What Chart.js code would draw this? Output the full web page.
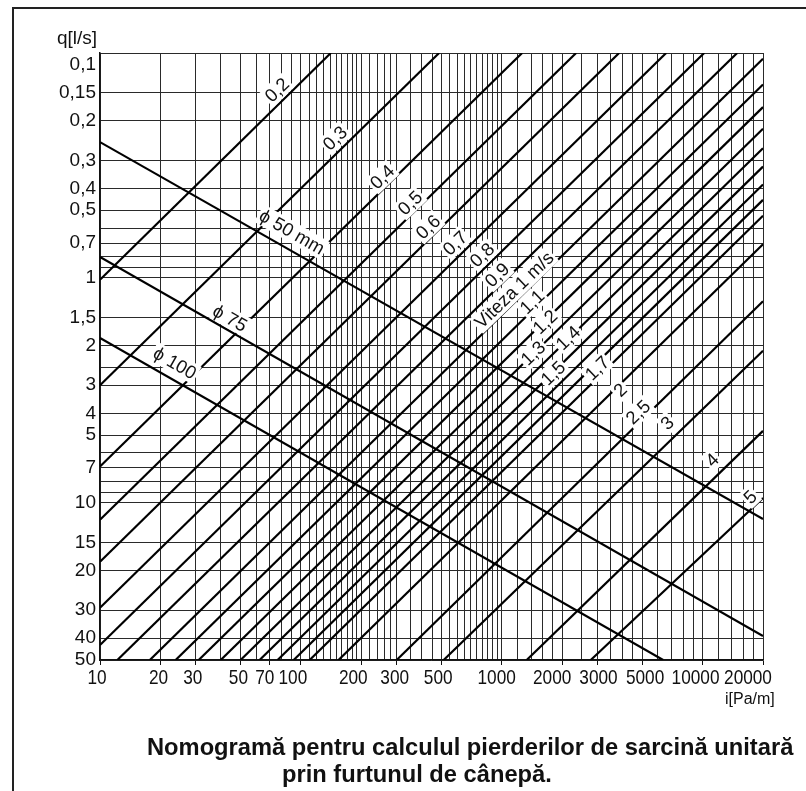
<!DOCTYPE html>
<html lang="ro">
<head>
<meta charset="utf-8">
<title>Nomogramă – furtun de cânepă</title>
<script src="https://cdn.jsdelivr.net/npm/chart.js@4.4.1/dist/chart.umd.min.js"></script>
<style>
  html, body { margin: 0; padding: 0; background: #fff; overflow: hidden; }
  #wrap { position: relative; width: 806px; height: 791px; }
  #frame { position: absolute; left: 12px; top: 7px; width: 900px; height: 900px;
           border-left: 2px solid #222; border-top: 2px solid #222; }
  canvas { position: absolute; left: 0; top: 0; }
  .txt { position: absolute; font-family: "Liberation Sans", Arial, sans-serif; color: #111; white-space: nowrap; }
  #qtitle { left: 57px; top: 27px; font-size: 19px; }
  #ititle { left: 725px; top: 690px; font-size: 16px; }
  .title { font-weight: bold; font-size: 23.7px; }
  #t1 { left: 147px; top: 734px; }
  #t2 { left: 282px; top: 761px; }
</style>
</head>
<body>
<div id="wrap">
  <div id="frame"></div>
  <canvas id="c" width="806" height="791"></canvas>
  <div class="txt" id="qtitle">q[l/s]</div>
  <div class="txt" id="ititle">i[Pa/m]</div>
  <div class="txt title" id="t1">Nomogramă pentru calculul pierderilor de sarcină unitară</div>
  <div class="txt title" id="t2">prin furtunul de cânepă.</div>
</div>
<script>
// Axis grid: unit pressure loss i [Pa/m] (x) and flow q [l/s] (y, downwards)
const xGrid = [10, 20, 30, 40, 50, 60, 70, 80, 90, 100, 110, 120, 130, 140, 150, 160, 170, 180, 190, 200,
               220, 240, 260, 280, 300, 350, 400, 450, 500, 550, 600, 650, 700, 750, 800, 850, 900, 950, 1000,
               1200, 1400, 1600, 1800, 2000, 2500, 3000, 3500, 4000, 4500, 5000, 6000, 7000, 8000, 9000, 10000,
               12000, 14000, 16000, 18000, 20000];
const xLabels = [10, 20, 30, 50, 70, 100, 200, 300, 500, 1000, 2000, 3000, 5000, 10000, 20000];
const yGrid = [0.1, 0.15, 0.2, 0.3, 0.4, 0.5, 0.6, 0.7, 0.8, 0.9, 1, 1.5, 2, 2.5, 3, 4, 5, 6, 7, 8, 9,
               10, 15, 20, 30, 40, 50];
const yLabels = [0.1, 0.15, 0.2, 0.3, 0.4, 0.5, 0.7, 1, 1.5, 2, 3, 4, 5, 7, 10, 15, 20, 30, 40, 50];

// Velocity lines (m/s): end points as (i, q)
const velocity = ['0,2', '0,3', '0,4', '0,5', '0,6', '0,7', '0,8', '0,9', '1', '1,1', '1,2', '1,3', '1,4',
                  '1,5', '1,6', '1,7', '1,8', '2', '2,5', '3', '4', '5'];
const velStartI = [10, 10, 10, 10, 10, 10, 10, 12.2, 17.7, 23.8, 31.0, 39.9, 50.1, 62.3, 76.6, 92.1, 110.6,
                   154, 300, 514, 1332, 2775];
const velStartQ = [1.02, 3.0, 6.9, 11.9, 18.3, 29.3, 42.9, 50, 50, 50, 50, 50, 50, 50, 50, 50, 50, 50, 50,
                   50, 50, 50];
const velEndI = [141, 488, 1264, 2347, 3843, 6590, 10190, 14870, 20000, 20000, 20000, 20000, 20000, 20000,
                 20000, 20000, 20000, 20000, 20000, 20000, 20000, 20000];
const velEndQ = [0.1, 0.1, 0.1, 0.1, 0.1, 0.1, 0.1, 0.1, 0.106, 0.138, 0.174, 0.217, 0.265, 0.320, 0.384,
                 0.450, 0.529, 0.708, 1.27, 2.11, 4.79, 9.52];

// Hose diameter lines
const diameter = ['ϕ 50 mm', 'ϕ 75', 'ϕ 100'];
const diaStartI = [10, 10, 10];
const diaStartQ = [0.249, 0.807, 1.85];
const diaEndI = [20000, 20000, 6365];
const diaEndQ = [11.8, 39.1, 50];

// Line captions, anchored at (i, q)
const velCaption = ['0,2', '0,3', '0,4', '0,5', '0,6', '0,7', '0,8', '0,9', 'Viteza 1 m/s', '1,1', '1,2',
                    '1,3', '1,4', '1,5', '1,7', '2', '2,5', '3', '4', '5'];
const velCapI = [76.1, 148, 254, 350, 430, 586, 799, 949, 1153, 1417, 1645, 1433, 2141, 1803, 2987, 3887,
                 4778, 6664, 11160, 17270];
const velCapQ = [0.146, 0.239, 0.356, 0.464, 0.594, 0.70, 0.791, 0.971, 1.13, 1.28, 1.57, 2.16, 1.85, 2.65,
                 2.52, 3.15, 3.95, 4.42, 6.45, 9.42];
const diaCapI = [90.4, 44.4, 23.6];
const diaCapQ = [0.625, 1.51, 2.39];

// Horizontal nudges (px) for the crowded i-axis labels
const xLabelShift = [-3, -2, -3, -2, -5, -8, -8, -2, -3, -5, -10, 1, 3, -7, -15];

const datasets = [];
velocity.forEach((v, k) => datasets.push({
  label: v + ' m/s',
  data: [{ x: velStartI[k], y: velStartQ[k] }, { x: velEndI[k], y: velEndQ[k] }]
}));
diameter.forEach((d, k) => datasets.push({
  label: d,
  data: [{ x: diaStartI[k], y: diaStartQ[k] }, { x: diaEndI[k], y: diaEndQ[k] }]
}));
datasets.forEach(ds => Object.assign(ds, {
  borderColor: '#000', borderWidth: 2.2, pointRadius: 0, fill: false, tension: 0
}));

const fmt = v => String(v).replace('.', ',');

// Rotated captions with a white backing so they stay legible over the grid
const captionPlugin = {
  id: 'captions',
  afterDatasetsDraw(chart) {
    const { ctx, scales: { x, y } } = chart;
    const draw = (text, i, q, deg) => {
      const px = x.getPixelForValue(i), py = y.getPixelForValue(q);
      ctx.save();
      ctx.translate(px, py);
      ctx.rotate(deg * Math.PI / 180);
      ctx.font = '18.5px "Liberation Sans", Arial, sans-serif';
      const w = ctx.measureText(text).width;
      ctx.fillStyle = '#fff';
      ctx.fillRect(-w / 2 - 2, -10, w + 4, 20);
      ctx.fillStyle = '#111';
      ctx.textAlign = 'center';
      ctx.textBaseline = 'middle';
      ctx.fillText(text, 0, 1);
      ctx.restore();
    };
    velCaption.forEach((t, k) => draw(t, velCapI[k], velCapQ[k], -44));
    diameter.forEach((t, k) => draw(t, diaCapI[k], diaCapQ[k], 30));
  }
};

// i-axis tick labels: narrow lettering placed under the scale's own tick positions
const xLabelPlugin = {
  id: 'xlabels',
  afterDraw(chart) {
    const { ctx, scales: { x }, chartArea } = chart;
    ctx.save();
    ctx.fillStyle = '#111';
    ctx.textAlign = 'center';
    ctx.textBaseline = 'middle';
    ctx.font = '21px "Liberation Sans", Arial, sans-serif';
    xLabels.forEach((v, k) => {
      const px = x.getPixelForValue(v) + xLabelShift[k];
      ctx.save();
      ctx.translate(px, chartArea.bottom + 18);
      ctx.scale(0.82, 1);
      ctx.fillText(String(v), 0, 0);
      ctx.restore();
    });
    ctx.restore();
  }
};

new Chart(document.getElementById('c'), {
  type: 'line',
  data: { datasets },
  plugins: [captionPlugin, xLabelPlugin],
  options: {
    responsive: false,
    animation: false,
    devicePixelRatio: 1,
    parsing: false,
    layout: { padding: { left: 0, right: 43, top: 53, bottom: 101 } },
    plugins: { legend: { display: false }, tooltip: { enabled: false } },
    scales: {
      x: {
        type: 'logarithmic', position: 'bottom', min: 10, max: 20000,
        afterBuildTicks: s => { s.ticks = xGrid.map(v => ({ value: v })); },
        afterFit: s => { s.height = 30; },
        grid: {
          color: '#2a2a2a', lineWidth: 1, drawTicks: true, tickLength: 5,
          tickColor: c => (c.tick && xLabels.includes(c.tick.value)) ? '#111' : 'rgba(0,0,0,0)'
        },
        border: { display: true, color: '#111', width: 1.5 },
        ticks: { display: false, autoSkip: false }
      },
      y: {
        type: 'logarithmic', reverse: true, min: 0.1, max: 50,
        afterBuildTicks: s => { s.ticks = yGrid.map(v => ({ value: v })); },
        afterFit: s => { s.width = 100; },
        grid: { color: '#2a2a2a', lineWidth: 1, drawTicks: false },
        border: { display: true, color: '#111', width: 1.5 },
        ticks: {
          autoSkip: false, padding: 4, color: '#111',
          font: { family: '"Liberation Sans", Arial, sans-serif', size: 19 },
          // the top label sits just below the frame edge
          callback: v => !yLabels.includes(v) ? '' : (v === 0.1 ? ['', fmt(v)] : fmt(v))
        }
      }
    }
  }
});
</script>
</body>
</html>
